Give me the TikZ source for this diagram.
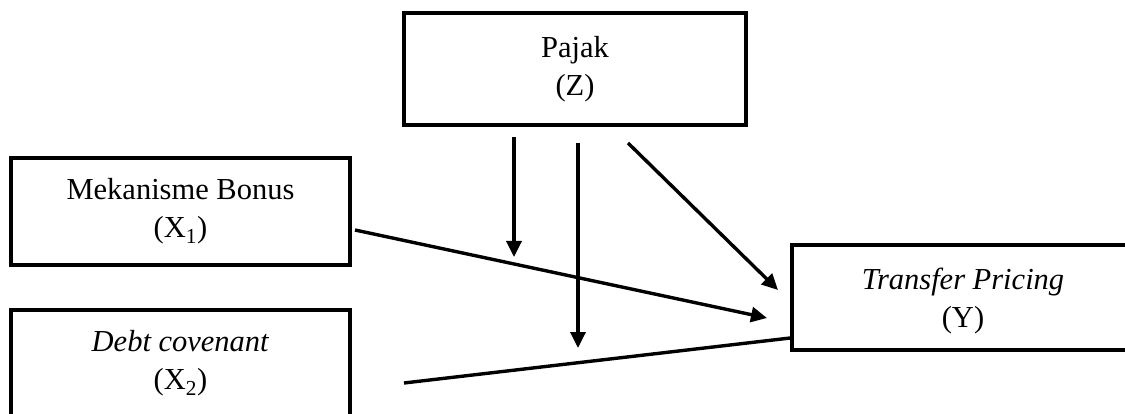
\documentclass[tikz,border=0pt]{standalone}
\usepackage{fontspec}
\setmainfont{Liberation Serif}
\usetikzlibrary{arrows.meta}
\begin{document}
\begin{tikzpicture}[x=1pt,y=-1pt,
  box/.style={draw,line width=3.6pt,inner sep=0pt,align=center,
    font=\fontsize{30.5}{38}\selectfont},
  conn/.style={line width=3.4pt},
  arr/.style={conn,-{Triangle[length=16pt,width=15pt]}}]
\useasboundingbox (0,0) rectangle (1125,414);
\clip (0,0) rectangle (1125,414);
\node[box,minimum width=342pt,minimum height=112pt] (Z) at (575,69) {Pajak\\(Z)};
\node[box,minimum width=339pt,minimum height=107pt] (X1) at (180.5,211.5) {Mekanisme Bonus\\(X\textsubscript{1})};
\node[box,minimum width=339pt,minimum height=107pt] (X2) at (180.5,363.5) {\textit{Debt covenant}\\(X\textsubscript{2})};
\node[box,minimum width=342pt,minimum height=105pt] (Y) at (963,297.5) {};
\node[align=center,inner sep=0pt,font=\fontsize{30.5}{38}\selectfont] (Yt) at (963,301) {\textit{Transfer Pricing}\\(Y)};
\coordinate (z1) at (514,137);
\coordinate (m1) at (514,257);
\coordinate (z2) at (578,143);
\coordinate (m2) at (578,348);
\coordinate (z3) at (628,143);
\coordinate (y3) at (778,290);
\coordinate (x1s) at (355,230);
\coordinate (y1) at (767,318);
\coordinate (x2s) at (404,383);
\coordinate (y2) at (Y.west |- 0,338);
\draw[arr] (z1) -- (m1);
\draw[arr] (z2) -- (m2);
\draw[arr] (z3) -- (y3);
\draw[arr] (x1s) -- (y1);
\draw[conn] (x2s) -- (y2);
\end{tikzpicture}
\end{document}
